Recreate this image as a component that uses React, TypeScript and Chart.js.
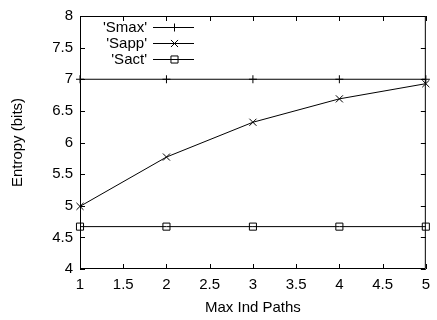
import React, { useEffect, useRef } from "react";
import { Chart, registerables } from "chart.js";

Chart.register(...registerables);

const xValues = [1, 2, 3, 4, 5];
const smax = [7, 7, 7, 7, 7];
const sapp = [4.99, 5.77, 6.32, 6.69, 6.93];
const sact = [4.67, 4.67, 4.67, 4.67, 4.67];
const seriesNames = ["'Smax'", "'Sapp'", "'Sact'"];
const xTitle = "Max Ind Paths";
const yTitle = "Entropy (bits)";

const FONT = "Liberation Sans, Arial, Helvetica, sans-serif";
const FS = 15;

function drawMarker(ctx: CanvasRenderingContext2D, style: string, r: number, x: number, y: number) {
  ctx.beginPath();
  if (style === "cross") {
    ctx.moveTo(x - r, y);
    ctx.lineTo(x + r, y);
    ctx.moveTo(x, y - r);
    ctx.lineTo(x, y + r);
  } else if (style === "crossRot") {
    const o = Math.cos(Math.PI / 4) * r;
    ctx.moveTo(x - o, y - o);
    ctx.lineTo(x + o, y + o);
    ctx.moveTo(x - o, y + o);
    ctx.lineTo(x + o, y - o);
  } else if (style === "rect") {
    const s = Math.SQRT1_2 * r;
    ctx.rect(x - s, y - s, 2 * s, 2 * s);
  }
  ctx.stroke();
}

const framePlugin = {
  id: "frame",
  afterDraw(chart: any) {
    const { ctx, chartArea, scales } = chart;
    const { left, right, top, bottom } = chartArea;
    const xs = scales.x;
    const ys = scales.y;
    ctx.save();
    ctx.strokeStyle = "#000";
    ctx.lineWidth = 1;
    ctx.beginPath();
    ctx.rect(left + 0.5, top + 0.5, right - left - 1, bottom - top - 1);
    ctx.stroke();
    const tl = 5;
    ctx.beginPath();
    xs.ticks.forEach((t: any) => {
      const px = Math.round(xs.getPixelForValue(t.value)) + 0.5;
      ctx.moveTo(px, bottom);
      ctx.lineTo(px, bottom - tl);
      ctx.moveTo(px, top);
      ctx.lineTo(px, top + tl);
    });
    ys.ticks.forEach((t: any) => {
      const py = Math.round(ys.getPixelForValue(t.value)) + 0.5;
      ctx.moveTo(left, py);
      ctx.lineTo(left + tl, py);
      ctx.moveTo(right, py);
      ctx.lineTo(right - tl, py);
    });
    ctx.stroke();

    // legend (gnuplot style: text right-aligned, then sample line with marker)
    ctx.font = FS + "px " + FONT;
    ctx.textAlign = "right";
    ctx.textBaseline = "middle";
    const textRight = left + 67;
    const lineStart = left + 73;
    const lineEnd = left + 114;
    chart.data.datasets.forEach((ds: any, i: number) => {
      const y = Math.round(top + 11) + 0.5 + i * 16;
      ctx.fillStyle = "#000";
      ctx.fillText(ds.label, textRight, y);
      ctx.beginPath();
      ctx.moveTo(lineStart, y);
      ctx.lineTo(lineEnd, y);
      ctx.stroke();
      drawMarker(ctx, ds.pointStyle, ds.pointRadius, Math.round((lineStart + lineEnd) / 2) + 0.5, y);
    });
    ctx.restore();
  },
};

export default function App() {
  const ref = useRef<HTMLCanvasElement>(null);
  useEffect(() => {
    document.body.style.margin = "0";
    const mk = (vals: number[]) => xValues.map((x, i) => ({ x, y: vals[i] }));
    const common = {
      borderColor: "#000",
      backgroundColor: "rgba(0,0,0,0)",
      borderWidth: 1,
      pointBorderColor: "#000",
      pointBackgroundColor: "rgba(0,0,0,0)",
      pointBorderWidth: 1,
      tension: 0,
      clip: false as any,
    };
    const chart = new Chart(ref.current!, {
      type: "line",
      data: {
        datasets: [
          { ...common, label: seriesNames[0], data: mk(smax), pointStyle: "cross", pointRadius: 4 },
          { ...common, label: seriesNames[1], data: mk(sapp), pointStyle: "crossRot", pointRadius: 5 },
          { ...common, label: seriesNames[2], data: mk(sact), pointStyle: "rect", pointRadius: 5 },
        ] as any,
      },
      options: {
        animation: false,
        responsive: false,
        maintainAspectRatio: false,
        layout: { padding: { top: 13, right: 2, left: 0, bottom: 0 } },
        plugins: { legend: { display: false }, tooltip: { enabled: false } },
        scales: {
          x: {
            type: "linear",
            min: 1,
            max: 5,
            grid: { display: false, drawTicks: false },
            border: { display: false },
            ticks: {
              stepSize: 0.5,
              color: "#000",
              padding: 7,
              maxRotation: 0,
              autoSkip: false,
              font: { family: FONT, size: FS },
              callback: (v: any) => String(v),
            },
            title: {
              display: true,
              text: xTitle,
              color: "#000",
              font: { family: FONT, size: FS },
              padding: { top: 4, bottom: 3 },
            },
            afterFit: (s: any) => {
              s.height = 51;
            },
          },
          y: {
            type: "linear",
            min: 4,
            max: 8,
            grid: { display: false, drawTicks: false },
            border: { display: false },
            ticks: {
              stepSize: 0.5,
              color: "#000",
              padding: 7,
              autoSkip: false,
              font: { family: FONT, size: FS },
              callback: (v: any) => String(v),
            },
            title: {
              display: true,
              text: yTitle,
              color: "#000",
              font: { family: FONT, size: FS },
              padding: { top: 9, bottom: 4 },
            },
            afterFit: (s: any) => {
              s.width = 80;
            },
          },
        },
      } as any,
      plugins: [framePlugin],
    });
    return () => chart.destroy();
  }, []);
  return (
    <div style={{ width: 437, height: 320 }}>
      <canvas ref={ref} width={437} height={320} style={{ display: "block" }} />
    </div>
  );
}
